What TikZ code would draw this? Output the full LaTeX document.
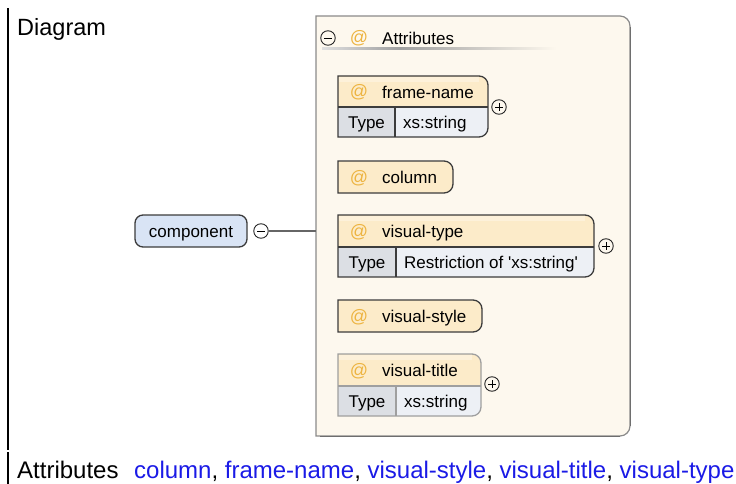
\documentclass[tikz,border=0pt]{standalone}
\usepackage{fontspec}
\setmainfont{Liberation Sans}
\usetikzlibrary{positioning}

\definecolor{panelfill}{HTML}{FDF8EE}
\definecolor{panelline}{HTML}{8A8A8A}
\definecolor{attrhead}{HTML}{FCEBC9}
\definecolor{attrheadtop}{HTML}{FDF1DA}
\definecolor{typecell}{HTML}{DCDFE4}
\definecolor{valuecell}{HTML}{EDF0F5}
\definecolor{compfill}{HTML}{D9E4F5}
\definecolor{boxline}{HTML}{3C3C3C}
\definecolor{atsign}{HTML}{EDB441}
\definecolor{linkblue}{HTML}{1A1AE6}

\tikzset{
  txt/.style={inner sep=0pt, text height=12.2pt, text depth=0pt, font=\fontsize{17}{20}\selectfont},
  atmark/.style={inner sep=0pt, text height=10pt, text depth=0pt, font=\fontsize{18}{20}\selectfont, text=atsign},
  boxedge/.style={draw=boxline, line width=1.3pt},
  toggle/.style={circle, draw=black!85, line width=0.9pt, minimum size=14.5pt, inner sep=0pt},
}

% right-rounded box outline: x1,y1 (top left), x2,y2 (bottom right), radius
\newcommand{\rrbox}[5]{(#1,#2) -- ({#3-#5},#2) arc[start angle=-90,end angle=0,radius=#5]
  -- (#3,{#4-#5}) arc[start angle=0,end angle=90,radius=#5] -- (#1,#4) -- cycle}
% two-row attribute box: x1,y1,x2,y2,split y,type-cell right x,border colour
\newcommand{\typedattr}[7]{
  \fill[attrhead] \rrbox{#1}{#2}{#3}{#4}{9};
  \fill[attrheadtop] ({#1+1},{#2+1}) rectangle ({#3-9},{#2+6});
  \fill[valuecell] (#6,#5) -- (#3,#5) -- (#3,{#4-9}) arc[start angle=0,end angle=90,radius=9] -- (#6,#4) -- cycle;
  \fill[typecell] (#1,#5) rectangle (#6,#4);
  \draw[draw=#7, line width=1.3pt] (#1,#5) -- (#3,#5) (#6,#5) -- (#6,#4);
  \draw[draw=#7, line width=1.3pt] \rrbox{#1}{#2}{#3}{#4}{9};
}
\newcommand{\plainattr}[4]{
  \fill[attrhead] \rrbox{#1}{#2}{#3}{#4}{9};
  \draw[boxedge] \rrbox{#1}{#2}{#3}{#4}{9};
}
% plus / minus marks inside a toggle node
\newcommand{\minusmark}[1]{\draw[line width=0.9pt] ([xshift=-3.8pt]#1.center) -- ([xshift=3.8pt]#1.center);}
\newcommand{\plusmark}[1]{\minusmark{#1}\draw[line width=0.9pt] ([yshift=-3.8pt]#1.center) -- ([yshift=3.8pt]#1.center);}

\begin{document}
\begin{tikzpicture}[x=1pt,y=-1pt]
\useasboundingbox (0,0) rectangle (736,484);

% table rule on the left
\fill[black] (7,8) rectangle (9,450);
\fill[black] (7,452) rectangle (9,484);

\node[inner sep=0pt, anchor=base west, font=\fontsize{23.5}{27}\selectfont] (diaglabel) at (17,36) {Diagram};

% attribute group panel
\node[inner sep=0pt, minimum width=314pt, minimum height=420pt] (grp) at (473,226) {};
\fill[panelfill] \rrbox{316}{16}{630}{436}{10};
\draw[panelline, line width=1.2pt] \rrbox{316}{16}{630}{436}{10};
\draw[panelline!80!black, line width=1.8pt] (630.4,27) -- (630.4,426);
\draw[panelline!80!black, line width=1.8pt] (320,436.4) -- (620,436.4);

% group header
\node[toggle] (grpminus) at (328,38) {};
\minusmark{grpminus}
\node[atmark] (grpat) at (359,38.5) {@};
\node[txt, anchor=west] (grptitle) at (382,38) {Attributes};
\shade[left color=gray!25, right color=gray!75, draw=none] (322,47.5) rectangle (400,50);
\shade[left color=gray!75, right color=panelfill, draw=none] (400,47.5) rectangle (556,50);

% frame-name
\typedattr{338}{76}{488}{137}{107}{395}{boxline}
\node[atmark] (fnat) at (359,93) {@};
\node[txt, anchor=west] (fname) at (382,92.5) {frame-name};
\node[txt] (fntype) at (366.5,122.5) {Type};
\node[txt, anchor=west] (fnval) at (403,122.5) {xs:string};
\node[toggle] (fnplus) at (499,107) {};
\plusmark{fnplus}

% column
\plainattr{338}{161}{453}{193}
\node[atmark] (colat) at (359,178) {@};
\node[txt, anchor=west] (colname) at (382,177.5) {column};

% visual-type
\typedattr{338}{215}{594}{277}{247}{396}{boxline}
\node[atmark] (vtat) at (359,232) {@};
\node[txt, anchor=west] (vtname) at (382,231.5) {visual-type};
\node[txt] (vttype) at (367,262) {Type};
\node[txt, anchor=west] (vtval) at (404,262) {Restriction of \textquotesingle xs:string\textquotesingle};
\node[toggle] (vtplus) at (606,246) {};
\plusmark{vtplus}

% visual-style
\plainattr{338}{300}{482}{332}
\node[atmark] (vsat) at (359,317) {@};
\node[txt, anchor=west] (vsname) at (382,316.5) {visual-style};

% visual-title
\typedattr{338}{354}{481}{416}{386}{396}{gray!75}
\node[atmark] (vtiat) at (359,371) {@};
\node[txt, anchor=west] (vtiname) at (382,370.5) {visual-title};
\node[txt] (vtitype) at (367,401) {Type};
\node[txt, anchor=west] (vtival) at (404,401) {xs:string};
\node[toggle] (vtiplus) at (492,384) {};
\plusmark{vtiplus}

% element component
\node[txt, draw=boxline, line width=1.3pt, fill=compfill, rounded corners=8pt,
  minimum width=112pt, minimum height=32pt] (comp) at (191,231) {component};
\node[toggle] (compminus) at (261,231) {};
\minusmark{compminus}
\draw[gray!80!black, line width=2.2pt] (compminus.east) -- (grp.west |- compminus.east);

% attribute list row
\node[inner sep=0pt, anchor=base west, font=\fontsize{24}{28}\selectfont] (attrlabel) at (17,478) {Attributes};
\node[inner sep=0pt, anchor=base west, font=\fontsize{24}{28}\selectfont] (attrlist) at (134,478)
  {\textcolor{linkblue}{column}, \textcolor{linkblue}{frame-name}, \textcolor{linkblue}{visual-style}, \textcolor{linkblue}{visual-title}, \textcolor{linkblue}{visual-type}};
\end{tikzpicture}
\end{document}
